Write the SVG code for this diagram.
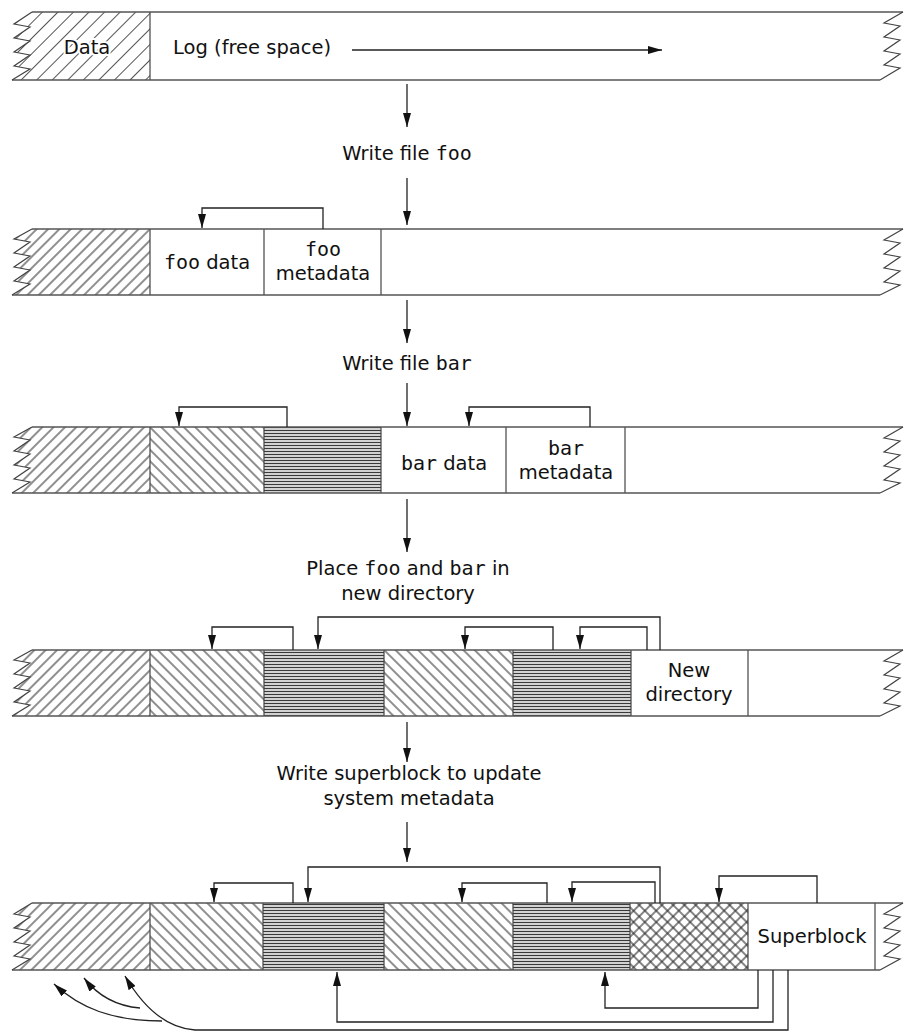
<svg xmlns="http://www.w3.org/2000/svg" width="906" height="1032" viewBox="0 0 906 1032">
<style>
.t{font-family:"DejaVu Sans","Open Sans",sans-serif;font-size:19.5px;fill:#111}
.c{text-anchor:middle}
.m{font-family:"DejaVu Sans Mono",monospace;font-size:20px}
.halo{stroke:#fff;stroke-width:4px;paint-order:stroke;stroke-linejoin:round}
.band{fill:none;stroke:#555;stroke-width:1.6}
.div{stroke:#444;stroke-width:1.2}
.zz{fill:none;stroke:#444;stroke-width:1.2}
.con{fill:none;stroke:#222;stroke-width:1.3}
</style>
<defs>
<pattern id="hd" width="11" height="11" patternUnits="userSpaceOnUse" patternTransform="rotate(45)"><line x1="5.5" y1="-1" x2="5.5" y2="12" stroke="#555" stroke-width="1"/></pattern>
<pattern id="hf" width="8" height="8" patternUnits="userSpaceOnUse" patternTransform="rotate(45)"><line x1="4" y1="-1" x2="4" y2="9" stroke="#333" stroke-width="1.1"/></pattern>
<pattern id="hb" width="8" height="8" patternUnits="userSpaceOnUse" patternTransform="rotate(-45)"><line x1="4" y1="-1" x2="4" y2="9" stroke="#333" stroke-width="1.1"/></pattern>
<pattern id="hh" width="6" height="3" patternUnits="userSpaceOnUse"><rect width="6" height="3" fill="#d2d2d2"/><line x1="0" y1="1.5" x2="6" y2="1.5" stroke="#3a3a3a" stroke-width="1"/></pattern>
<pattern id="hx" width="8" height="8" patternUnits="userSpaceOnUse" patternTransform="rotate(45)"><line x1="4" y1="-1" x2="4" y2="9" stroke="#222" stroke-width="1.1"/><line x1="-1" y1="4" x2="9" y2="4" stroke="#222" stroke-width="1.1"/></pattern>
<marker id="ah" viewBox="0 0 14 8" refX="14" refY="4" markerWidth="14" markerHeight="8" markerUnits="userSpaceOnUse" orient="auto"><path d="M0,0 L14,4 L0,8 z" fill="#111"/></marker>
</defs>
<rect width="906" height="1032" fill="#fff"/>

<!-- Row 1 -->
<g id="row1">
  <g id="r1-data">
    <polygon points="32,12 150,12 150,80 12,80 30,69 14,66 30,55 14,52 30,41 14,38 30,27 14,24" fill="url(#hd)"/>
    <text class="t c halo" x="87" y="54">Data</text>
  </g>
  <g id="r1-log">
    <text class="t" x="173" y="54">Log (free space)</text>
  </g>
  <line class="div" x1="150" y1="12" x2="150" y2="80"/>
  <path class="band" d="M32,12 L903,12 M12,80 L880,80"/>
  <polyline class="zz" points="12,80 30,69 14,66 30,55 14,52 30,41 14,38 30,27 14,24 32,12"/>
  <polyline class="zz" points="903,12 884,23 900,26 884,37 900,40 884,51 900,54 884,65 900,68 880,80"/>
</g>

<g id="label-foo"><text class="t c" x="407" y="160">Write file <tspan class="m">foo</tspan></text></g>

<!-- Row 2 -->
<g id="row2">
  <g id="r2-old"><polygon points="32,229 150,229 150,295 12,295 30,284 14,281 30,270 14,267 30,256 14,253 30,242 14,239" fill="url(#hf)"/></g>
  <g id="r2-foodata"><text class="t c" x="207" y="269"><tspan class="m">foo</tspan> data</text></g>
  <g id="r2-foometa"><text class="t c" x="323" y="256"><tspan class="m">foo</tspan></text><text class="t c" x="323" y="280">metadata</text></g>
  <path class="div" d="M150,229 V295 M264,229 V295 M381,229 V295"/>
  <path class="band" d="M32,229 L903,229 M12,295 L880,295"/>
  <polyline class="zz" points="12,295 30,284 14,281 30,270 14,267 30,256 14,253 30,242 14,239 32,229"/>
  <polyline class="zz" points="903,229 884,240 900,243 884,254 900,257 884,268 900,271 884,282 900,285 880,295"/>
</g>

<g id="label-bar"><text class="t c" x="407" y="370">Write file <tspan class="m">bar</tspan></text></g>

<!-- Row 3 -->
<g id="row3">
  <g id="r3-b1"><polygon points="32,427 150,427 150,493 12,493 30,482 14,479 30,468 14,465 30,454 14,451 30,440 14,437" fill="url(#hf)"/></g>
  <g id="r3-b2"><rect x="150" y="427" width="114" height="66" fill="url(#hb)"/></g>
  <g id="r3-b3"><rect x="264" y="427" width="117" height="66" fill="url(#hh)"/></g>
  <g id="r3-bardata"><text class="t c" x="444" y="470"><tspan class="m">bar</tspan> data</text></g>
  <g id="r3-barmeta"><text class="t c" x="566" y="455"><tspan class="m">bar</tspan></text><text class="t c" x="566" y="479">metadata</text></g>
  <path class="div" d="M150,427 V493 M264,427 V493 M381,427 V493 M506,427 V493 M625,427 V493"/>
  <path class="band" d="M32,427 L903,427 M12,493 L880,493"/>
  <polyline class="zz" points="12,493 30,482 14,479 30,468 14,465 30,454 14,451 30,440 14,437 32,427"/>
  <polyline class="zz" points="903,427 884,438 900,441 884,452 900,455 884,466 900,469 884,480 900,483 880,493"/>
</g>

<g id="label-place"><text class="t c" x="408" y="575">Place <tspan class="m">foo</tspan> and <tspan class="m">bar</tspan> in</text><text class="t c" x="408" y="600">new directory</text></g>

<!-- Row 4 -->
<g id="row4">
  <g id="r4-b1"><polygon points="32,650 150,650 150,716 12,716 30,705 14,702 30,691 14,688 30,677 14,674 30,663 14,660" fill="url(#hf)"/></g>
  <g id="r4-b2"><rect x="150" y="650" width="114" height="66" fill="url(#hb)"/></g>
  <g id="r4-b3"><rect x="264" y="650" width="120" height="66" fill="url(#hh)"/></g>
  <g id="r4-b4"><rect x="384" y="650" width="129" height="66" fill="url(#hb)"/></g>
  <g id="r4-b5"><rect x="513" y="650" width="118" height="66" fill="url(#hh)"/></g>
  <g id="r4-dir"><text class="t c" x="689" y="677">New</text><text class="t c" x="689" y="701">directory</text></g>
  <path class="div" d="M150,650 V716 M264,650 V716 M384,650 V716 M513,650 V716 M631,650 V716 M748,650 V716"/>
  <path class="band" d="M32,650 L903,650 M12,716 L880,716"/>
  <polyline class="zz" points="12,716 30,705 14,702 30,691 14,688 30,677 14,674 30,663 14,660 32,650"/>
  <polyline class="zz" points="903,650 884,661 900,664 884,675 900,678 884,689 900,692 884,703 900,706 880,716"/>
</g>

<g id="label-super"><text class="t c" x="409" y="780">Write superblock to update</text><text class="t c" x="409" y="805">system metadata</text></g>

<!-- Row 5 -->
<g id="row5">
  <g id="r5-b1"><polygon points="32,903 150,903 150,970 12,970 30,959 14,956 30,945 14,942 30,931 14,928 30,917 14,914" fill="url(#hf)"/></g>
  <g id="r5-b2"><rect x="150" y="903" width="113" height="67" fill="url(#hb)"/></g>
  <g id="r5-b3"><rect x="263" y="903" width="121" height="67" fill="url(#hh)"/></g>
  <g id="r5-b4"><rect x="384" y="903" width="129" height="67" fill="url(#hb)"/></g>
  <g id="r5-b5"><rect x="513" y="903" width="117" height="67" fill="url(#hh)"/></g>
  <g id="r5-b6"><rect x="630" y="903" width="118" height="67" fill="url(#hx)"/></g>
  <g id="r5-super"><text class="t c" x="812" y="943">Superblock</text></g>
  <path class="div" d="M150,903 V970 M263,903 V970 M384,903 V970 M513,903 V970 M630,903 V970 M748,903 V970 M875,903 V970"/>
  <path class="band" d="M32,903 L903,903 M12,970 L880,970"/>
  <polyline class="zz" points="12,970 30,959 14,956 30,945 14,942 30,931 14,928 30,917 14,914 32,903"/>
  <polyline class="zz" points="903,903 884,914 900,917 884,928 900,931 884,942 900,945 884,956 900,959 880,970"/>
</g>

<!-- Connectors -->
<g id="connectors">
  <line class="con" x1="352" y1="50" x2="662" y2="50" marker-end="url(#ah)"/>
  <line class="con" x1="407" y1="84" x2="407" y2="127" marker-end="url(#ah)"/>
  <line class="con" x1="407" y1="178" x2="407" y2="225" marker-end="url(#ah)"/>
  <line class="con" x1="407" y1="300" x2="407" y2="343" marker-end="url(#ah)"/>
  <line class="con" x1="407" y1="383" x2="407" y2="426" marker-end="url(#ah)"/>
  <line class="con" x1="407" y1="499" x2="407" y2="552" marker-end="url(#ah)"/>
  <line class="con" x1="407" y1="722" x2="407" y2="762" marker-end="url(#ah)"/>
  <line class="con" x1="407" y1="822" x2="407" y2="862" marker-end="url(#ah)"/>

  <path class="con" d="M323,229 V208 H202 V228" marker-end="url(#ah)"/>

  <path class="con" d="M287,427 V407 H179 V426" marker-end="url(#ah)"/>
  <path class="con" d="M590,427 V407 H469 V426" marker-end="url(#ah)"/>

  <path class="con" d="M293,650 V627 H212 V649" marker-end="url(#ah)"/>
  <path class="con" d="M660,650 V617 H318 V649" marker-end="url(#ah)"/>
  <path class="con" d="M553,650 V627 H465 V649" marker-end="url(#ah)"/>
  <path class="con" d="M647,650 V627 H580 V649" marker-end="url(#ah)"/>

  <path class="con" d="M293,903 V883 H214 V902" marker-end="url(#ah)"/>
  <path class="con" d="M660,903 V867 H308 V902" marker-end="url(#ah)"/>
  <path class="con" d="M547,903 V883 H462 V902" marker-end="url(#ah)"/>
  <path class="con" d="M655,903 V882 H572 V902" marker-end="url(#ah)"/>
  <path class="con" d="M817,903 V876 H719 V902" marker-end="url(#ah)"/>

  <path class="con" d="M758,970 V1008 H605 V972" marker-end="url(#ah)"/>
  <path class="con" d="M773,970 V1022 H337 V972" marker-end="url(#ah)"/>
  <path class="con" d="M788,970 V1030 H195 C165,1028 142,1005 125,976" marker-end="url(#ah)"/>
  <path class="con" d="M140,1008 C116,1006 98,996 84,978" marker-end="url(#ah)"/>
  <path class="con" d="M162,1021 C112,1021 80,1008 54,984" marker-end="url(#ah)"/>
</g>
</svg>
